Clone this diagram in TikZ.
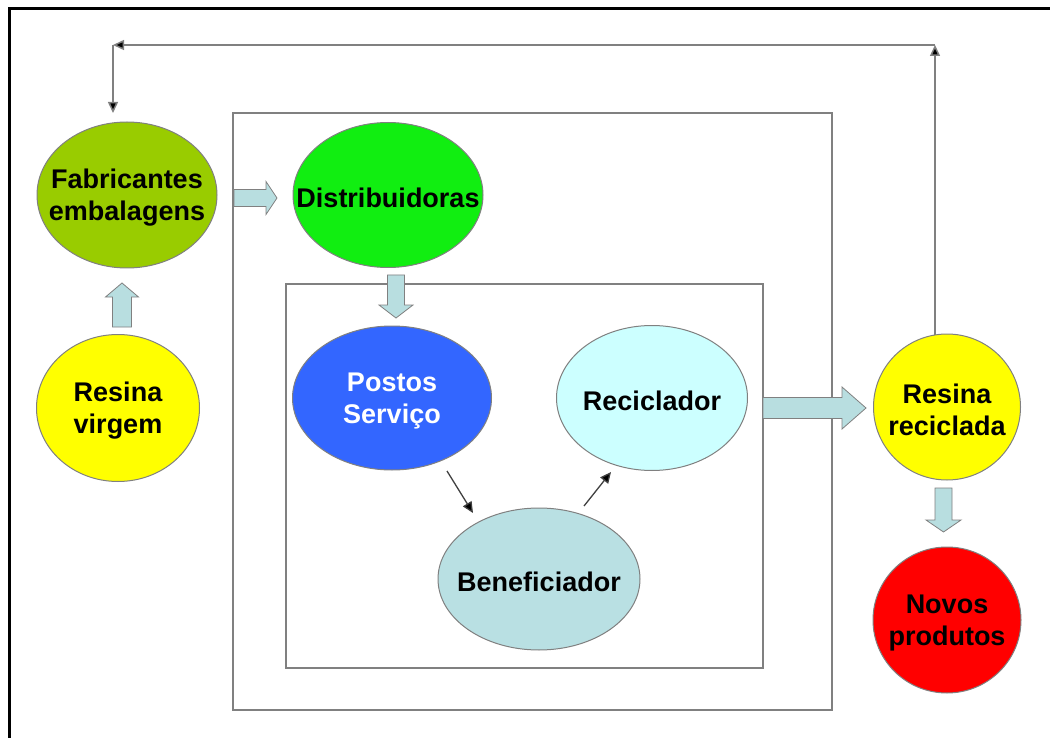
\documentclass[tikz,border=0pt]{standalone}
\usepackage{fontspec}
\setmainfont{Liberation Sans}
\usetikzlibrary{shapes.geometric,arrows.meta}
\definecolor{fabc}{HTML}{99CC00}
\definecolor{distc}{HTML}{11EE11}
\definecolor{postc}{HTML}{3366FF}
\definecolor{recc}{HTML}{CCFFFF}
\definecolor{benc}{HTML}{B9E0E3}
\definecolor{yelc}{HTML}{FFFF00}
\definecolor{redc}{HTML}{FF0000}
\definecolor{arrc}{HTML}{B8DEE0}
\definecolor{linec}{HTML}{808080}
\tikzset{
  blob/.style={ellipse, draw=linec, line width=1pt, inner sep=0pt},
  txt/.style={align=center, inner sep=0pt, yshift=-3pt, font=\fontsize{27}{32}\selectfont\bfseries},
  boxline/.style={draw=linec, line width=1.5pt},
  blockarrow/.style={fill=arrc, draw=linec, line width=0.8pt, line join=miter},
  fbline/.style={draw=linec, line width=1.5pt, -{Triangle[length=11pt,width=10pt,fill=black]}},
  thinarrow/.style={draw=black!75, line width=1.3pt, -{Triangle[length=11pt,width=10pt,fill=black]}},
}
% horizontal block arrow: tailx, tipx, cy, half shaft, half head, head length
\newcommand{\hblockarrow}[6]{%
  \path[blockarrow] (#1,{#3-#4}) -- ({#2-#6},{#3-#4}) -- ({#2-#6},{#3-#5}) -- (#2,#3)
    -- ({#2-#6},{#3+#5}) -- ({#2-#6},{#3+#4}) -- (#1,{#3+#4}) -- cycle;}
% vertical block arrow: taily, tipy, cx, half shaft, half head, head length, direction
\newcommand{\vblockarrow}[7]{%
  \path[blockarrow] ({#3-#4},#1) -- ({#3-#4},{#2-#7*#6}) -- ({#3-#5},{#2-#7*#6}) -- (#3,#2)
    -- ({#3+#5},{#2-#7*#6}) -- ({#3+#4},{#2-#7*#6}) -- ({#3+#4},#1) -- cycle;}
\begin{document}
\begin{tikzpicture}[x=1pt,y=-1pt]
\useasboundingbox (0,0) rectangle (1050,738);
\fill[white] (0,0) rectangle (1050,738);
% outer frame
\draw[line width=3pt] (9,738) -- (9,9) -- (1050,9);
% boxes
\draw[boxline] (233,113) rectangle (832,710);
\draw[boxline] (286,284) rectangle (763,668);
% nodes
\node[blob, fill=fabc, minimum width=180pt, minimum height=146pt] (fab) at (127,195) {};
\node[txt] at (fab) {Fabricantes\\embalagens};
\node[blob, fill=distc, minimum width=190pt, minimum height=145pt] (dist) at (388,195) {};
\node[txt] at (dist) {Distribuidoras};
\node[blob, fill=yelc, minimum width=163pt, minimum height=147pt] (rv) at (118,408) {};
\node[txt] at (rv) {Resina\\virgem};
\node[blob, fill=postc, minimum width=199pt, minimum height=144pt] (post) at (392,398) {};
\node[txt, text=white] at (post) {Postos\\Serviço};
\node[blob, fill=recc, minimum width=191pt, minimum height=145pt] (rec) at (652,398) {};
\node[txt] at (rec) {Reciclador};
\node[blob, fill=benc, minimum width=202pt, minimum height=142pt] (ben) at (539,579) {};
\node[txt] at (ben) {Beneficiador};
\node[blob, fill=yelc, minimum width=147pt, minimum height=146pt] (rr) at (947,407) {};
\node[txt] at (rr) {Resina\\reciclada};
\node[blob, fill=redc, minimum width=148pt, minimum height=146pt] (np) at (947,620) {};
\node[txt] at (np) {Novos\\produtos};
% block arrows
\hblockarrow{234}{277}{198}{8.5}{16.5}{11}
\vblockarrow{275}{318}{396}{8.5}{17}{13}{1}
\vblockarrow{327}{283}{122}{9.5}{16.5}{14}{-1}
\hblockarrow{763}{866}{408}{10.5}{21}{24}
\vblockarrow{488}{532}{943.5}{8.5}{17.5}{12}{1}
% thin arrows
\coordinate (p1) at (447,471);
\coordinate (b1) at (473,513);
\coordinate (b2) at (584,506);
\coordinate (r1) at (611,472);
\draw[thinarrow] (p1) -- (b1);
\draw[thinarrow] (b2) -- (r1);
% feedback loop
\coordinate (c0) at (935,335);
\coordinate (c1) at (935,45);
\coordinate (c2) at (113,45);
\coordinate (c3) at (113,113);
\draw[fbline] (c0) -- (c1);
\draw[fbline] (c1) -- (c2);
\draw[fbline] (c2) -- (c3);
\end{tikzpicture}
\end{document}
